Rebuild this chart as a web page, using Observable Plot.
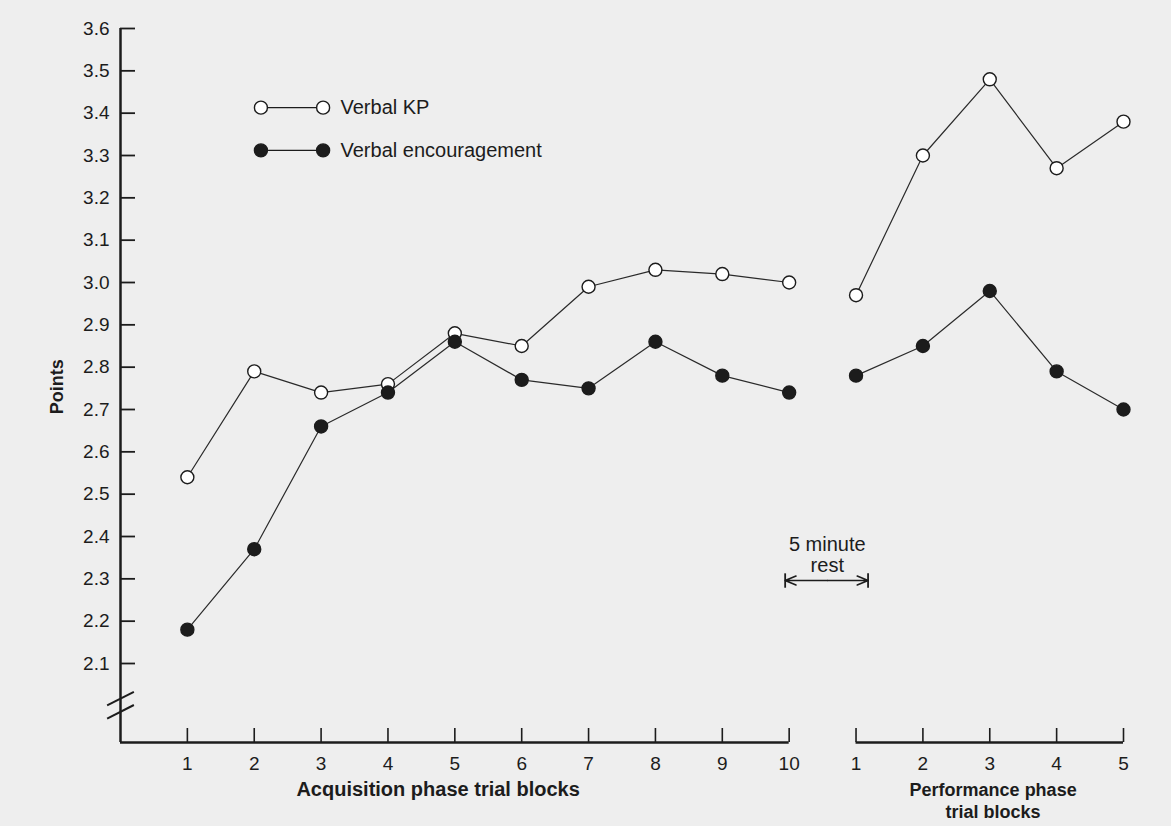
<!DOCTYPE html>
<html><head><meta charset="utf-8">
<script src="https://cdn.jsdelivr.net/npm/d3@7"></script>
<script src="https://cdn.jsdelivr.net/npm/@observablehq/plot@0.6"></script>
<style>
html,body{margin:0;padding:0;background:#eeeeee;}
#chart svg{display:block;}
</style></head><body><div id="chart"></div>
<script>
// ---- data ----
const acqBlocks = [1, 2, 3, 4, 5, 6, 7, 8, 9, 10];
const perfBlocks = [1, 2, 3, 4, 5];
const kpAcq  = [2.54, 2.79, 2.74, 2.76, 2.88, 2.85, 2.99, 3.03, 3.02, 3.00];
const kpPerf = [2.97, 3.30, 3.48, 3.27, 3.38];
const encAcq  = [2.18, 2.37, 2.66, 2.74, 2.86, 2.77, 2.75, 2.86, 2.78, 2.74];
const encPerf = [2.78, 2.85, 2.98, 2.79, 2.70];
const yTicks = [2.1, 2.2, 2.3, 2.4, 2.5, 2.6, 2.7, 2.8, 2.9, 3.0, 3.1, 3.2, 3.3, 3.4, 3.5, 3.6];
const seriesNames = ["Verbal KP", "Verbal encouragement"];
const restLabel = ["5 minute", "rest"];
const xTitleAcq = "Acquisition phase trial blocks";
const xTitlePerf = ["Performance phase", "trial blocks"];
const yTitle = "Points";

// ---- build tables ----
const REST_OFFSET = 10; // performance block k sits at x = 10 + k
const rows = [];
acqBlocks.forEach((b, i) => {
  rows.push({series: seriesNames[0], phase: "acq", x: b, y: kpAcq[i]});
  rows.push({series: seriesNames[1], phase: "acq", x: b, y: encAcq[i]});
});
perfBlocks.forEach((b, i) => {
  rows.push({series: seriesNames[0], phase: "perf", x: REST_OFFSET + b, y: kpPerf[i]});
  rows.push({series: seriesNames[1], phase: "perf", x: REST_OFFSET + b, y: encPerf[i]});
});
const xTickRows = [
  ...acqBlocks.map(b => ({x: b, label: String(b)})),
  ...perfBlocks.map(b => ({x: REST_OFFSET + b, label: String(b)}))
];
const axisSegments = [{x1: 0, x2: 10}, {x1: 11, x2: 15}];

// ---- layout constants ----
const base = 1.9134;        // value where x axis sits
const ink = "#1c1c1c";
const fontFamily = "'Liberation Sans', Arial, Helvetica, sans-serif";
const W = 1171, H = 826, mL = 120, mR = 48, mT = 28, mB = 84;
const frameW = W - mL - mR, frameH = H - mT - mB;

const legendRows = [
  {name: seriesNames[0], y: 3.413, fill: "white"},
  {name: seriesNames[1], y: 3.312, fill: ink}
];
const breakRows = [{yc: 2.017}, {yc: 1.986}];
const arrowY = 2.296, restX = 10.57;
const arrows = [{x1: restX, x2: 9.94}, {x1: restX, x2: 11.18}];

const plot = Plot.plot({
  width: W, height: H,
  marginLeft: mL, marginRight: mR, marginTop: mT, marginBottom: mB,
  x: {domain: [0, 15], axis: null},
  y: {domain: [base, 3.6], axis: null},
  style: {background: "transparent", fontFamily, color: ink, overflow: "visible"},
  marks: [
    // y axis
    Plot.ruleX([0], {x: d => d, y1: () => base, y2: () => 3.6, stroke: ink, strokeWidth: 2.5}),
    Plot.tickY(yTicks, {y: d => d, stroke: ink, strokeWidth: 1.8, insetRight: frameW - 15}),
    Plot.text(yTicks, {x: () => 0, y: d => d, text: d => d.toFixed(1), textAnchor: "end", dx: -11, fontSize: 19, fill: ink}),
    // axis break
    Plot.link(breakRows, {x1: () => -0.2, x2: () => 0.2, y1: d => d.yc - 0.016, y2: d => d.yc + 0.016, stroke: ink, strokeWidth: 2}),
    // x axis
    Plot.ruleY(axisSegments, {y: () => base, x1: "x1", x2: "x2", stroke: ink, strokeWidth: 2.5}),
    Plot.tickX(xTickRows, {x: "x", stroke: ink, strokeWidth: 1.6, insetTop: frameH - 14}),
    Plot.text(xTickRows, {x: "x", y: () => base, text: "label", dy: 21, fontSize: 19, fill: ink}),
    // axis titles
    Plot.text([yTitle], {x: () => -0.94, y: () => 2.754, text: d => d, rotate: -90, fontSize: 18, fontWeight: "bold", fill: ink}),
    Plot.text([xTitleAcq], {x: () => 4.75, y: () => base, text: d => d, dy: 47, fontSize: 20, fontWeight: "bold", fill: ink}),
    Plot.text([xTitlePerf[0]], {x: () => 13.05, y: () => base, text: d => d, dy: 48, fontSize: 18, fontWeight: "bold", fill: ink}),
    Plot.text([xTitlePerf[1]], {x: () => 13.05, y: () => base, text: d => d, dy: 70, fontSize: 18, fontWeight: "bold", fill: ink}),
    // rest annotation
    Plot.arrow(arrows, {x1: "x1", x2: "x2", y1: () => arrowY, y2: () => arrowY, stroke: ink, strokeWidth: 1.6, headLength: 11, headAngle: 45}),
    Plot.link(arrows, {x1: "x2", x2: "x2", y1: () => arrowY - 0.017, y2: () => arrowY + 0.017, stroke: ink, strokeWidth: 1.8}),
    Plot.text([restLabel[0]], {x: () => restX, y: () => 2.381, text: d => d, fontSize: 20, fill: ink}),
    Plot.text([restLabel[1]], {x: () => restX, y: () => 2.331, text: d => d, fontSize: 20, fill: ink}),
    // legend
    Plot.link(legendRows, {x1: () => 2.1, x2: () => 3.03, y1: "y", y2: "y", stroke: ink, strokeWidth: 1.2}),
    Plot.dot(legendRows, {x: () => 2.1, y: "y", r: 6.5, fill: "fill", stroke: ink, strokeWidth: 1.4}),
    Plot.dot(legendRows, {x: () => 3.03, y: "y", r: 6.5, fill: "fill", stroke: ink, strokeWidth: 1.4}),
    Plot.text(legendRows, {x: () => 3.29, y: "y", text: "name", textAnchor: "start", fontSize: 20, fill: ink}),
    // data
    Plot.line(rows, {x: "x", y: "y", z: d => d.series + d.phase, stroke: "#2a2a2a", strokeWidth: 1.2}),
    Plot.dot(rows, {x: "x", y: "y", r: 6.5, fill: d => d.series === seriesNames[0] ? "white" : ink, stroke: ink, strokeWidth: 1.4})
  ]
});
document.getElementById("chart").append(plot);
</script>
</body></html>
